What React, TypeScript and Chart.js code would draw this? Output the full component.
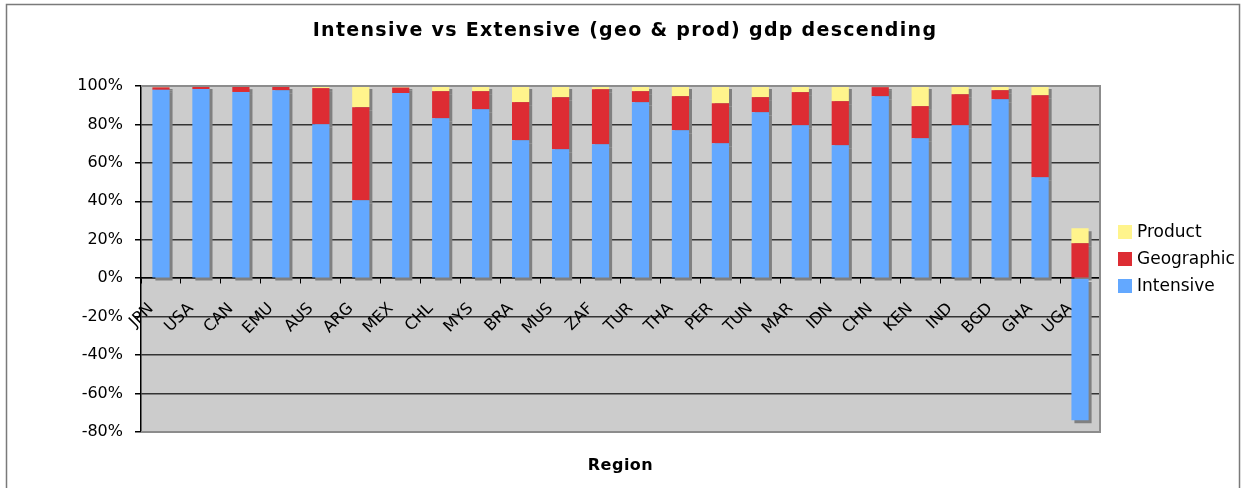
import React, { useEffect, useRef } from "react";
import { Chart, registerables } from "chart.js";

Chart.register(...registerables);

const regions = [
  "JPN", "USA", "CAN", "EMU", "AUS", "ARG", "MEX", "CHL", "MYS", "BRA", "MUS", "ZAF",
  "TUR", "THA", "PER", "TUN", "MAR", "IDN", "CHN", "KEN", "IND", "BGD", "GHA", "UGA",
];
const intensive = [
  98.0, 98.4, 96.9, 97.8, 80.1, 40.6, 96.3, 83.2, 87.9, 71.8, 67.1, 69.7,
  91.6, 77.0, 70.2, 86.4, 79.6, 69.2, 94.7, 72.8, 79.6, 93.1, 52.5, -73.9,
];
const geographic = [
  1.3, 1.6, 2.7, 2.2, 18.8, 48.4, 2.9, 14.1, 9.4, 19.8, 27.1, 28.6,
  5.7, 17.7, 20.8, 7.8, 17.2, 22.9, 4.7, 16.7, 16.1, 4.7, 42.7, 18.2,
];
const product = [
  0.7, 0.0, 0.4, 0.0, 1.1, 11.0, 0.8, 2.7, 2.7, 8.4, 5.8, 1.7,
  2.7, 5.3, 9.0, 5.8, 3.2, 7.9, 0.6, 10.5, 4.3, 2.2, 4.8, 7.8,
];
const yTickValues = [-80, -60, -40, -20, 0, 20, 40, 60, 80, 100];
const seriesNames = ["Intensive", "Geographic", "Product"];
const titleText = "Intensive vs Extensive (geo & prod) gdp descending";
const xAxisTitle = "Region";

const FONT = "'DejaVu Sans', Verdana, sans-serif";
const COLORS = ["#63A8FF", "#DD2C33", "#FFF48C"];

const decorPlugin = {
  id: "decor",
  beforeDraw(chart: any) {
    const { ctx, chartArea: a } = chart;
    ctx.save();
    ctx.fillStyle = "#ffffff";
    ctx.fillRect(0, 0, chart.width, chart.height);
    ctx.fillStyle = "#CCCCCC";
    ctx.fillRect(a.left, a.top, a.right - a.left, a.bottom - a.top);
    ctx.restore();
  },
  beforeDatasetsDraw(chart: any) {
    const ctx = chart.ctx;
    ctx.save();
    ctx.shadowColor = "#808080";
    ctx.shadowOffsetX = 3;
    ctx.shadowOffsetY = 3;
    ctx.shadowBlur = 0;
  },
  afterDatasetsDraw(chart: any) {
    const { ctx, chartArea: a } = chart;
    ctx.restore();
    ctx.save();
    ctx.strokeStyle = "#8c8c8c";
    ctx.lineWidth = 2;
    ctx.beginPath();
    ctx.moveTo(a.left, a.top);
    ctx.lineTo(a.right, a.top);
    ctx.lineTo(a.right, a.bottom);
    ctx.lineTo(a.left, a.bottom);
    ctx.stroke();
    ctx.restore();
  },
  afterDraw(chart: any) {
    const { ctx, chartArea: a } = chart;
    ctx.save();
    // outer frame
    ctx.strokeStyle = "#7a7a7a";
    ctx.lineWidth = 1.5;
    ctx.strokeRect(6.5, 4.5, 1233, 500);
    // title
    ctx.fillStyle = "#000";
    ctx.textAlign = "center";
    ctx.textBaseline = "middle";
    ctx.font = `bold 19px ${FONT}`;
    (ctx as any).letterSpacing = "1.3px";
    ctx.fillText(titleText, 625, 31);
    // x axis title
    ctx.font = `bold 16px ${FONT}`;
    (ctx as any).letterSpacing = "0.5px";
    ctx.fillText(xAxisTitle, (a.left + a.right) / 2, 466);
    (ctx as any).letterSpacing = "0px";
    // legend (reversed)
    const ds = chart.data.datasets;
    ctx.textAlign = "left";
    ctx.font = `17px ${FONT}`;
    const order = ds.map((_: any, i: number) => i).reverse();
    order.forEach((i: number, k: number) => {
      const cy = 232 + k * 27;
      ctx.fillStyle = ds[i].backgroundColor;
      ctx.fillRect(1118, cy - 7, 14, 14);
      ctx.fillStyle = "#000";
      ctx.fillText(ds[i].label, 1137, cy + 1);
    });
    ctx.restore();
  },
};

export default function App() {
  const ref = useRef<HTMLCanvasElement | null>(null);

  useEffect(() => {
    document.body.style.margin = "0";
    const canvas = ref.current;
    if (!canvas) return;
    const chart = new Chart(canvas, {
      type: "bar",
      data: {
        labels: regions,
        datasets: [intensive, geographic, product].map((d, i) => ({
          label: seriesNames[i],
          data: d,
          backgroundColor: COLORS[i],
          borderWidth: 0,
          barPercentage: 0.43,
          categoryPercentage: 1,
        })),
      },
      options: {
        responsive: false,
        animation: false,
        devicePixelRatio: 1,
        layout: { padding: { left: 71, top: 86, right: 145, bottom: 56 } },
        plugins: {
          legend: { display: false },
          title: { display: false },
          tooltip: { enabled: false },
        },
        scales: {
          x: {
            axis: "x",
            stacked: true,
            position: { y: 0 },
            grid: {
              drawOnChartArea: false,
              drawTicks: true,
              tickLength: 5,
              color: "#000",
              offset: true,
            },
            border: { display: true, color: "#000", width: 1.5 },
            ticks: {
              autoSkip: false,
              minRotation: 45,
              maxRotation: 45,
              padding: 16,
              labelOffset: -10,
              color: "#000",
              font: { family: FONT, size: 16 },
            },
          },
          y: {
            stacked: true,
            min: -80,
            max: 100,
            afterBuildTicks: (s: any) => {
              s.ticks = yTickValues.map((v) => ({ value: v }));
            },
            afterFit: (s: any) => {
              s.width = 70;
            },
            ticks: {
              padding: 12,
              color: "#000",
              font: { family: FONT, size: 16 },
              callback: (v: any) => `${v}%`,
            },
            grid: {
              drawTicks: true,
              tickLength: 6,
              lineWidth: 1.5,
              color: (c: any) => {
                const v = c.tick ? c.tick.value : 0;
                if (v === 100 || v === -80) return "rgba(0,0,0,0)";
                return "#333333";
              },
              tickColor: "#000",
            },
            border: { display: true, color: "#000", width: 1.5 },
          },
        },
      },
      plugins: [decorPlugin],
    });
    return () => chart.destroy();
  }, []);

  return (
    <div style={{ position: "relative", width: 1245, height: 488 }}>
      <canvas ref={ref} width={1245} height={488} style={{ display: "block" }} />
    </div>
  );
}
